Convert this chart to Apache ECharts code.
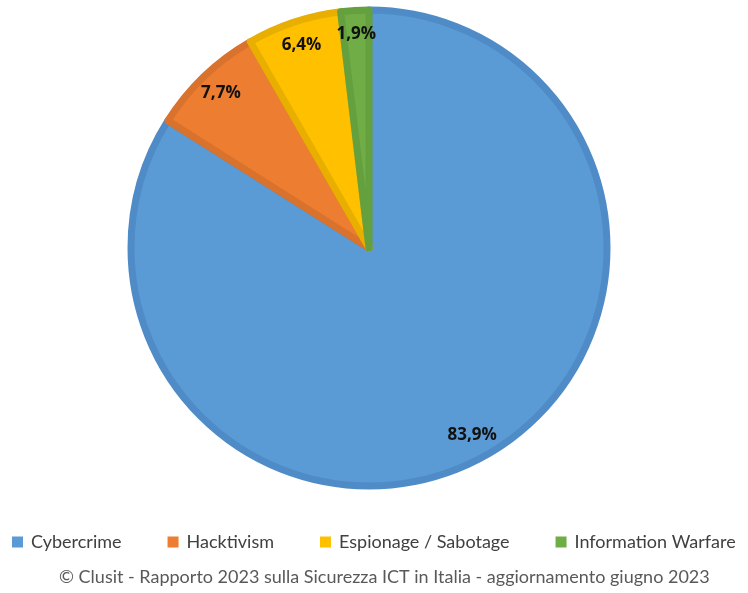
<!DOCTYPE html>
<html>
<head>
<meta charset="utf-8">
<script src="https://cdn.jsdelivr.net/npm/echarts@6/dist/echarts.min.js"></script>
<style>
  html, body { margin: 0; padding: 0; background: #ffffff; }
  #chart { width: 748px; height: 593px; }
</style>
</head>
<body>
<div id="chart"></div>
<script>
// Attack categories and their share of incidents (%)
const categories = ['Cybercrime', 'Hacktivism', 'Espionage / Sabotage', 'Information Warfare'];
const shares = [83.9, 7.7, 6.4, 1.9];
const fillColors = ['#5b9bd5', '#ed7d31', '#ffc000', '#70ad47'];
const edgeColors = ['#4f8bc6', '#d8722d', '#e8ae00', '#64a03e'];
const footer = '© Clusit - Rapporto 2023 sulla Sicurezza ICT in Italia - aggiornamento giugno 2023';

const fmt = v => v.toFixed(1).replace('.', ',') + '%';

const pieData = categories.map((name, i) => ({
  name: name,
  value: shares[i],
  itemStyle: { color: fillColors[i], borderColor: edgeColors[i] }
}));

// Transparent twin used only to place the percentage labels near the rim
const labelData = categories.map((name, i) => ({ name: name, value: shares[i] }));

const chart = echarts.init(document.getElementById('chart'), null, { renderer: 'canvas' });
chart.setOption({
  animation: false,
  backgroundColor: '#ffffff',
  color: fillColors,
  legend: {
    data: categories,
    left: 7,
    top: 528,
    itemWidth: 11,
    itemHeight: 11,
    itemGap: 46,
    icon: 'rect',
    itemStyle: { borderWidth: 0 },
    textStyle: { fontFamily: 'Lato', fontSize: 18, color: '#404040', padding: [0, 0, 0, 3] }
  },
  graphic: [{
    type: 'text',
    left: 59,
    top: 568,
    style: { text: footer, fontFamily: 'Lato', fontSize: 18, fill: '#595959' }
  }],
  series: [{
    type: 'pie',
    center: [369, 248],
    radius: [0, 238],
    startAngle: 90,
    clockwise: true,
    label: { show: false },
    labelLine: { show: false },
    itemStyle: { borderWidth: 7 },
    emphasis: { disabled: true },
    data: pieData
  }, {
    type: 'pie',
    center: [369, 248],
    radius: [0, 422],
    startAngle: 90,
    clockwise: true,
    silent: true,
    legendHoverLink: false,
    itemStyle: { color: 'rgba(0,0,0,0)', borderWidth: 0 },
    label: {
      show: true,
      position: 'inside',
      formatter: p => fmt(p.value),
      fontFamily: 'Open Sans',
      fontWeight: 'bold',
      fontSize: 17,
      color: '#111111'
    },
    labelLine: { show: false },
    emphasis: { disabled: true },
    data: labelData
  }]
});
</script>
</body>
</html>
